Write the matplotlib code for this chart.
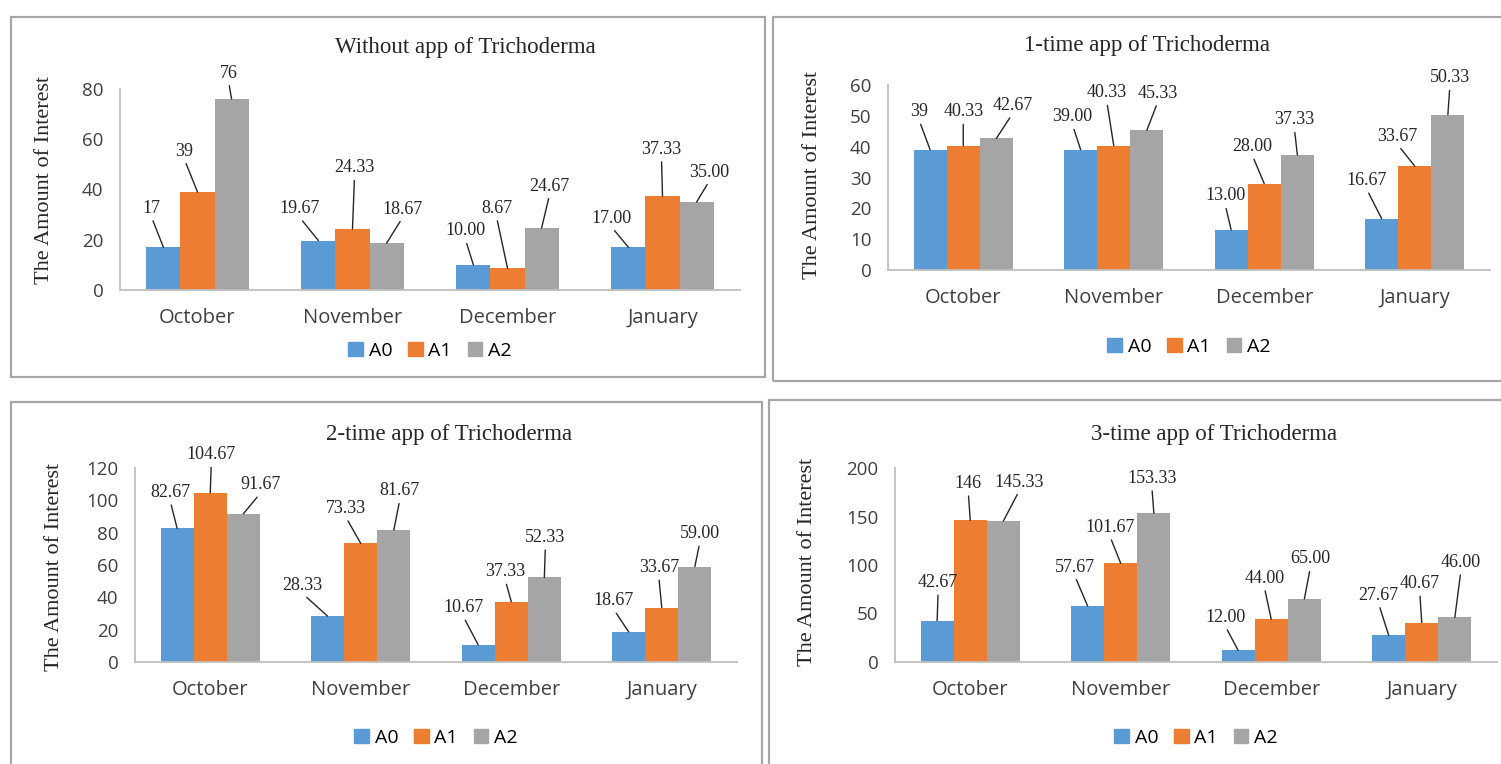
import matplotlib
matplotlib.use('Agg')
import matplotlib.pyplot as plt
from matplotlib.patches import Rectangle, Patch
import numpy as np

months = ['October', 'November', 'December', 'January']
series = ['A0', 'A1', 'A2']
colors = ['#5B9BD5', '#ED7D31', '#A5A5A5']

titles = ['Without app of Trichoderma', '1-time app of Trichoderma',
          '2-time app of Trichoderma', '3-time app of Trichoderma']

# values per panel: rows = A0, A1, A2 ; columns = months
vals_0 = [[17, 19.67, 10.00, 17.00],
          [39, 24.33, 8.67, 37.33],
          [76, 18.67, 24.67, 35.00]]
vals_1 = [[39, 39.00, 13.00, 16.67],
          [40.33, 40.33, 28.00, 33.67],
          [42.67, 45.33, 37.33, 50.33]]
vals_2 = [[82.67, 28.33, 10.67, 18.67],
          [104.67, 73.33, 37.33, 33.67],
          [91.67, 81.67, 52.33, 59.00]]
vals_3 = [[42.67, 57.67, 12.00, 27.67],
          [146, 101.67, 44.00, 40.67],
          [145.33, 153.33, 65.00, 46.00]]

# label text as printed in the chart
labels_0 = [['17', '19.67', '10.00', '17.00'],
            ['39', '24.33', '8.67', '37.33'],
            ['76', '18.67', '24.67', '35.00']]
labels_1 = [['39', '39.00', '13.00', '16.67'],
            ['40.33', '40.33', '28.00', '33.67'],
            ['42.67', '45.33', '37.33', '50.33']]
labels_2 = [['82.67', '28.33', '10.67', '18.67'],
            ['104.67', '73.33', '37.33', '33.67'],
            ['91.67', '81.67', '52.33', '59.00']]
labels_3 = [['42.67', '57.67', '12.00', '27.67'],
            ['146', '101.67', '44.00', '40.67'],
            ['145.33', '153.33', '65.00', '46.00']]

yticks = [np.arange(0, 81, 20), np.arange(0, 61, 10),
          np.arange(0, 121, 20), np.arange(0, 201, 50)]

# label offsets in pixels (dx, dy) of label centre from bar top, per series per month
offs_0 = [[(-12, 39), (-19, 32), (-8, 34), (-17, 29)],
          [(-13, 41), (2, 61), (-11, 60), (-1, 47)],
          [(-3, 26), (16, 34), (8, 42), (13, 30)]]
offs_1 = [[(-11, 38), (-8, 33), (-6, 34), (-15, 38)],
          [(0, 34), (-7, 53), (-12, 37), (-17, 30)],
          [(16, 33), (11, 37), (-3, 35), (2, 37)]]
offs_2 = [[(-7, 36), (-25, 31), (-15, 37), (-15, 31)],
          [(1, 38), (-15, 35), (-6, 30), (-3, 40)],
          [(17, 29), (6, 39), (1, 40), (5, 33)]]
offs_3 = [[(1, 38), (-13, 39), (-13, 33), (-10, 40)],
          [(-2, 37), (-11, 36), (-7, 41), (-2, 39)],
          [(16, 39), (-2, 35), (6, 40), (6, 55)]]

W, H = 1501, 764
fig = plt.figure(figsize=(W / 100, H / 100), dpi=100)

# panel geometry in pixels: axes (left, top, right, bottom), box, title centre, ylabel centre
panels = [
    dict(ax=(120, 89, 740, 290), box=(11, 17, 765, 377), title=(465, 47), ylab=(45, 180),
         vals=vals_0, labels=labels_0, offs=offs_0, leg=351),
    dict(ax=(888, 85, 1490, 270), box=(773, 17, 1510, 381), title=(1147, 46), ylab=(812, 175),
         vals=vals_1, labels=labels_1, offs=offs_1, leg=347),
    dict(ax=(135, 468, 737, 662), box=(11, 402, 762, 780), title=(449, 435), ylab=(55, 567),
         vals=vals_2, labels=labels_2, offs=offs_2, leg=738),
    dict(ax=(895, 468, 1497, 662), box=(769, 400, 1510, 780), title=(1214, 435), ylab=(808, 562),
         vals=vals_3, labels=labels_3, offs=offs_3, leg=738),
]

serif = 'Liberation Serif'
sans = 'Open Sans'
x = np.arange(len(months))
bw = 0.22

for i, p in enumerate(panels):
    bx0, by0, bx1, by1 = p['box']
    fig.patches.append(Rectangle((bx0 / W, 1 - by1 / H), (bx1 - bx0) / W, (by1 - by0) / H,
                                 transform=fig.transFigure, fill=False,
                                 edgecolor='#a6a6a6', lw=1.6))
    l, t, r, b = p['ax']
    ax = fig.add_axes([l / W, 1 - b / H, (r - l) / W, (b - t) / H])
    ax.set_xlim(-0.5, len(months) - 0.5)
    ax.set_ylim(yticks[i][0], yticks[i][-1])
    for j, s in enumerate(series):
        bars = ax.bar(x + (j - 1) * bw, p['vals'][j], bw, color=colors[j], label=s, zorder=2)
        for k, rect in enumerate(bars):
            dx, dy = p['offs'][j][k]
            ax.annotate(p['labels'][j][k],
                        xy=(rect.get_x() + rect.get_width() / 2, rect.get_height()),
                        xytext=(dx, dy), textcoords='offset pixels',
                        ha='center', va='center', fontsize=13, family=serif,
                        color='#262626', annotation_clip=False,
                        arrowprops=dict(arrowstyle='-', color='#262626', lw=1.0,
                                        shrinkA=1, shrinkB=0, relpos=(0.5, 0)))
    ax.set_xticks(x)
    ax.set_xticklabels(months, fontsize=14.5, family=sans, color='#404040')
    ax.set_yticks(yticks[i])
    ax.set_yticklabels([str(v) for v in yticks[i]], fontsize=13.5, family=sans, color='#404040')
    ax.tick_params(length=0, pad=12)
    ax.tick_params(axis='x', pad=13)
    for side in ['top', 'right']:
        ax.spines[side].set_visible(False)
    for side in ['left', 'bottom']:
        ax.spines[side].set_color('#bfbfbf')
        ax.spines[side].set_linewidth(1.3)
    fig.text(p['title'][0] / W, 1 - p['title'][1] / H, titles[i], ha='center', va='center',
             fontsize=16.5, family=serif, color='#262626')
    fig.text(p['ylab'][0] / W, 1 - p['ylab'][1] / H, 'The Amount of Interest', ha='center',
             va='center', rotation=90, fontsize=16, family=serif, color='#262626')
    handles = [Patch(color=c) for c in colors]
    fig.legend(handles, series, loc='center',
               bbox_to_anchor=(((l + r) / 2) / W, 1 - p['leg'] / H), ncol=3, frameon=False,
               handlelength=0.75, handleheight=0.75, handletextpad=0.3, columnspacing=0.8,
               prop=dict(family=sans, size=14))

fig.savefig('out.png', dpi=100, facecolor='white')
